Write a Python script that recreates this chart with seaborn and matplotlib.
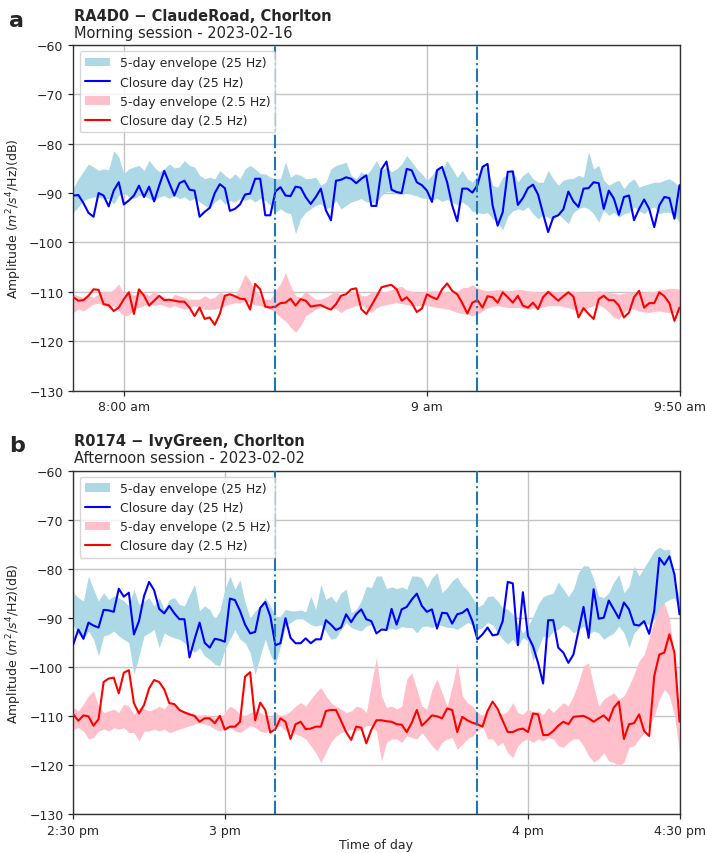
import numpy as np
import pandas as pd
import matplotlib
matplotlib.use("Agg")
import matplotlib.pyplot as plt
from matplotlib.patches import Patch
from matplotlib.lines import Line2D
import seaborn as sns

# ---------------- Panel a: RA4D0, morning session (1-min samples from 07:50) ----------------
a_start = "2023-02-16 07:50"
a_end = "2023-02-16 09:50"
a_closure_25 = [
    -90.5, -90.4, -92.0, -94.0, -94.8, -90.0, -90.5, -92.7, -89.5, -87.8,
    -92.3, -91.5, -90.5, -88.5, -90.8, -88.7, -91.7, -88.5, -85.5, -88.0,
    -90.5, -88.0, -87.5, -89.3, -89.5, -94.8, -93.8, -93.0, -90.0, -88.2,
    -89.0, -93.6, -93.2, -92.3, -90.3, -90.1, -87.1, -87.1, -94.5, -94.5,
    -89.7, -88.8, -90.5, -90.6, -88.7, -88.9, -90.8, -92.2, -90.8, -89.1,
    -93.5, -95.5, -87.5, -87.3, -86.8, -87.1, -88.0, -87.1, -86.4, -92.6,
    -92.6, -85.2, -83.6, -89.3, -89.8, -90.0, -85.1, -85.4, -87.8, -88.4,
    -89.5, -91.8, -85.4, -84.7, -87.8, -92.5, -95.7, -89.1, -89.1, -89.9,
    -88.4, -84.7, -84.1, -92.5, -96.6, -93.9, -85.7, -85.6, -92.4, -91.0,
    -89.0, -88.3, -90.3, -94.2, -97.9, -94.9, -94.5, -93.3, -89.7, -91.7,
    -92.8, -89.1, -89.0, -87.8, -88.0, -93.2, -89.5, -91.1, -94.4, -90.8,
    -90.5, -95.5, -93.2, -91.3, -93.2, -96.9, -92.5, -90.8, -91.0, -95.2,
    -88.4]
a_env25_hi = [
    -89.0, -87.1, -85.6, -84.1, -84.7, -85.4, -85.1, -85.3, -81.4, -82.7,
    -86.1, -85.1, -84.7, -84.4, -85.4, -83.4, -84.7, -85.7, -85.1, -84.1,
    -84.9, -84.7, -83.4, -84.4, -84.7, -86.4, -87.1, -86.8, -87.1, -85.4,
    -86.4, -87.1, -86.1, -87.1, -85.1, -84.4, -85.1, -86.1, -86.1, -86.8,
    -87.1, -87.1, -83.7, -86.8, -86.1, -86.4, -87.1, -87.0, -86.8, -88.4,
    -87.8, -85.1, -84.4, -84.1, -83.7, -86.4, -87.1, -85.7, -86.4, -85.1,
    -83.4, -85.4, -84.7, -85.7, -85.1, -84.1, -82.4, -83.7, -85.1, -86.1,
    -87.4, -86.4, -84.7, -85.4, -83.4, -85.1, -86.8, -85.4, -87.1, -87.8,
    -86.4, -84.4, -85.1, -88.4, -88.8, -86.8, -86.1, -85.4, -87.8, -86.4,
    -85.7, -87.1, -87.8, -87.8, -85.4, -87.1, -88.4, -87.4, -87.1, -87.0,
    -86.4, -86.8, -81.6, -85.1, -84.4, -87.4, -88.4, -87.8, -87.4, -89.1,
    -87.8, -87.1, -88.8, -88.4, -88.1, -87.8, -87.8, -87.4, -87.1, -87.8,
    -88.8]
a_env25_lo = [
    -93.9, -92.8, -91.5, -91.1, -90.8, -90.8, -91.1, -91.1, -92.2, -90.5,
    -89.8, -90.8, -91.1, -90.5, -90.5, -91.1, -91.5, -90.8, -90.5, -91.1,
    -90.5, -91.1, -90.8, -91.5, -91.1, -91.8, -92.5, -93.2, -91.8, -91.1,
    -92.2, -91.5, -91.8, -91.1, -91.5, -91.1, -91.8, -91.1, -91.5, -92.5,
    -93.9, -93.2, -93.9, -94.2, -98.2, -95.2, -93.9, -93.2, -92.5, -92.2,
    -93.2, -92.8, -91.5, -93.2, -92.5, -91.8, -91.5, -91.1, -91.8, -91.8,
    -92.0, -90.5, -89.7, -89.8, -90.1, -90.3, -89.9, -90.3, -90.6, -91.0,
    -91.1, -91.4, -91.1, -91.7, -91.3, -91.8, -92.4, -91.8, -92.5, -93.7,
    -93.9, -94.2, -93.9, -95.2, -96.0, -97.4, -94.7, -93.6, -93.2, -93.5,
    -92.8, -94.2, -95.2, -94.5, -94.9, -95.5, -94.2, -95.2, -96.2, -93.9,
    -93.2, -92.8, -93.2, -94.2, -95.9, -93.5, -94.5, -93.9, -94.9, -94.2,
    -93.9, -92.8, -93.5, -94.2, -93.2, -92.8, -94.2, -93.9, -93.9, -94.5,
    -95.9]
a_closure_2p5 = [
    -111.1, -111.8, -111.7, -110.8, -109.5, -109.6, -112.5, -112.7, -113.9, -113.2,
    -111.5, -110.1, -114.5, -109.5, -110.8, -112.8, -111.8, -110.8, -111.7, -111.6,
    -111.8, -112.0, -112.0, -113.2, -114.9, -113.2, -115.5, -115.2, -116.7, -114.5,
    -110.8, -110.5, -110.9, -111.4, -111.5, -113.6, -108.4, -109.5, -113.0, -113.2,
    -113.0, -112.3, -112.2, -111.4, -112.8, -111.5, -111.8, -113.0, -112.8, -112.7,
    -113.2, -113.6, -112.5, -110.8, -110.5, -109.5, -109.3, -113.5, -114.5, -112.8,
    -111.0, -109.1, -108.8, -108.6, -109.5, -111.8, -111.1, -112.3, -114.1, -113.4,
    -110.5, -111.1, -111.5, -109.5, -108.3, -109.8, -110.5, -112.3, -114.4, -112.2,
    -111.7, -113.2, -110.9, -111.1, -112.2, -110.1, -111.1, -112.2, -110.8, -112.8,
    -113.2, -112.2, -113.5, -111.1, -110.0, -110.9, -111.8, -110.9, -110.1, -111.0,
    -115.2, -113.3, -114.5, -115.5, -111.5, -110.8, -111.7, -111.7, -112.8, -115.2,
    -114.2, -111.1, -109.8, -113.2, -112.3, -112.3, -110.1, -110.9, -112.3, -115.9,
    -113.2]
a_env2p5_hi = [
    -110.5, -110.8, -111.1, -110.8, -111.1, -110.5, -109.8, -110.1, -109.5, -108.4,
    -110.5, -109.8, -110.8, -109.8, -110.1, -110.8, -109.8, -110.8, -110.9, -111.8,
    -110.5, -110.8, -111.1, -111.5, -111.5, -111.5, -110.8, -111.4, -111.1, -110.1,
    -110.5, -110.8, -110.8, -108.8, -106.4, -107.8, -109.8, -110.8, -111.5, -111.5,
    -109.8, -108.4, -106.1, -108.8, -110.8, -111.1, -109.8, -110.8, -111.5, -111.5,
    -111.1, -110.5, -109.8, -110.8, -110.8, -110.1, -109.8, -110.8, -110.8, -110.1,
    -110.1, -110.1, -109.9, -109.6, -109.1, -108.9, -109.6, -109.9, -110.1, -110.0,
    -109.9, -109.8, -109.8, -109.9, -110.1, -110.1, -109.9, -109.2, -109.1, -108.6,
    -109.2, -109.6, -109.8, -109.7, -109.5, -109.6, -109.8, -109.7, -109.5, -109.6,
    -109.8, -109.9, -110.1, -110.0, -109.8, -109.9, -110.1, -110.0, -109.8, -109.9,
    -110.0, -110.1, -110.1, -110.0, -109.8, -110.0, -110.1, -110.3, -110.5, -110.3,
    -110.1, -110.1, -110.1, -110.1, -110.0, -109.9, -109.6, -109.5, -109.3, -109.3,
    -109.5]
a_env2p5_lo = [
    -114.2, -113.5, -113.9, -113.2, -112.5, -112.3, -112.8, -113.2, -112.8, -113.9,
    -114.9, -114.7, -113.5, -113.2, -112.8, -112.3, -112.8, -112.5, -112.8, -113.2,
    -112.8, -113.2, -113.5, -113.2, -112.8, -113.2, -113.5, -113.6, -113.5, -113.2,
    -112.8, -112.5, -112.2, -112.3, -111.8, -112.2, -112.7, -112.8, -113.2, -113.5,
    -114.2, -115.2, -115.9, -117.2, -118.2, -116.9, -114.9, -114.2, -113.5, -113.2,
    -112.8, -113.2, -113.5, -114.2, -113.5, -113.2, -112.8, -112.5, -113.5, -114.2,
    -113.3, -112.8, -112.6, -112.4, -112.2, -112.4, -112.6, -112.8, -112.8, -112.8,
    -112.7, -113.0, -113.2, -113.3, -113.5, -113.8, -114.2, -114.4, -114.5, -114.9,
    -114.5, -113.9, -113.2, -113.0, -112.8, -113.0, -113.2, -113.2, -113.2, -113.3,
    -113.5, -113.4, -113.2, -113.1, -112.8, -112.8, -112.8, -113.0, -113.2, -113.6,
    -114.2, -113.6, -113.2, -112.8, -112.6, -113.2, -114.1, -115.2, -115.5, -114.2,
    -113.4, -113.5, -113.9, -114.1, -114.2, -114.0, -113.9, -114.1, -114.2, -114.2,
    -114.2]
a_ticks = ["2023-02-16 08:00", "2023-02-16 09:00", "2023-02-16 09:50"]
a_ticklabels = ["8:00 am", "9 am", "9:50 am"]
a_closure_marks = ["2023-02-16 08:30", "2023-02-16 09:10"]

# ---------------- Panel b: R0174, afternoon session (1-min samples from 14:30) ----------------
b_start = "2023-02-02 14:30"
b_end = "2023-02-02 16:30"
b_closure_25 = [
    -95.4, -92.4, -94.3, -91.0, -91.6, -92.0, -88.4, -88.5, -88.8, -84.1,
    -85.7, -84.9, -93.4, -90.7, -85.6, -82.7, -84.4, -88.2, -89.1, -87.6,
    -89.1, -90.3, -90.3, -98.1, -94.4, -91.0, -95.1, -96.1, -94.3, -94.5,
    -94.9, -86.1, -86.4, -88.6, -91.4, -93.2, -92.9, -88.0, -86.8, -89.7,
    -95.6, -95.2, -90.1, -94.1, -95.2, -95.2, -94.2, -95.2, -94.4, -94.4,
    -90.5, -91.4, -92.5, -92.0, -89.3, -90.9, -89.3, -88.3, -90.3, -90.7,
    -93.2, -92.4, -92.5, -88.2, -91.4, -88.3, -87.8, -86.3, -85.1, -87.6,
    -88.8, -88.3, -92.2, -89.0, -89.1, -91.2, -89.3, -89.0, -88.2, -90.7,
    -94.4, -93.4, -92.0, -93.6, -93.4, -90.7, -82.7, -83.0, -95.6, -84.8,
    -93.7, -95.8, -99.2, -103.4, -90.5, -90.5, -96.1, -97.1, -99.2, -97.5,
    -92.7, -87.8, -94.1, -84.2, -90.2, -90.0, -86.5, -88.3, -90.1, -86.9,
    -88.3, -91.4, -91.6, -90.7, -93.3, -88.6, -77.8, -79.2, -77.5, -81.2,
    -89.3]
b_env25_hi = [
    -84.9, -85.9, -86.6, -81.5, -84.2, -86.6, -84.9, -86.3, -85.6, -85.9,
    -86.6, -87.6, -84.2, -87.3, -86.6, -85.9, -87.6, -85.9, -88.3, -86.3,
    -85.9, -87.3, -87.6, -85.3, -83.2, -88.6, -87.6, -88.3, -90.3, -88.6,
    -84.2, -81.5, -84.2, -82.3, -86.9, -90.0, -88.6, -87.6, -85.9, -87.6,
    -89.7, -89.7, -88.3, -88.6, -88.6, -88.4, -88.8, -85.6, -88.3, -83.2,
    -86.3, -85.6, -86.9, -84.9, -84.2, -89.0, -88.3, -86.6, -83.6, -83.9,
    -81.5, -81.5, -84.1, -83.7, -84.1, -83.7, -84.2, -81.5, -81.5, -81.9,
    -83.9, -81.9, -80.8, -84.9, -83.9, -82.5, -81.7, -83.4, -84.4, -85.9,
    -87.8, -87.3, -85.7, -85.5, -86.6, -88.0, -88.3, -89.3, -91.4, -93.1,
    -91.8, -89.7, -87.3, -85.7, -85.3, -85.0, -82.7, -84.2, -85.7, -84.2,
    -80.8, -79.4, -79.5, -82.1, -85.6, -85.9, -84.9, -82.7, -81.2, -84.9,
    -83.6, -79.5, -81.5, -79.8, -78.1, -76.4, -75.6, -76.2, -76.0, -82.5,
    -85.9]
b_env25_lo = [
    -91.4, -93.4, -94.4, -92.7, -94.4, -97.8, -93.7, -93.4, -92.7, -93.7,
    -94.4, -95.1, -101.5, -97.8, -93.7, -93.1, -92.4, -96.1, -93.1, -93.7,
    -94.1, -94.4, -95.1, -96.1, -97.1, -96.1, -97.8, -98.5, -99.5, -99.8,
    -96.4, -94.4, -92.4, -94.4, -95.1, -97.1, -101.5, -97.8, -94.4, -97.5,
    -99.5, -95.8, -91.7, -91.0, -90.3, -90.0, -90.7, -91.4, -91.7, -91.4,
    -92.7, -94.4, -94.1, -92.4, -91.0, -92.0, -92.4, -92.7, -91.7, -91.4,
    -92.4, -92.0, -92.4, -92.2, -92.4, -91.8, -92.0, -92.0, -93.1, -91.8,
    -91.7, -92.0, -91.4, -91.6, -92.0, -92.0, -92.4, -91.7, -91.0, -91.4,
    -92.4, -92.0, -91.0, -91.4, -93.1, -94.4, -95.4, -94.4, -95.8, -94.1,
    -94.7, -98.8, -96.4, -93.7, -94.1, -92.7, -92.4, -91.4, -92.0, -93.1,
    -92.4, -91.7, -93.4, -92.7, -93.1, -94.4, -93.7, -93.1, -91.7, -93.1,
    -96.1, -93.1, -92.0, -91.0, -91.4, -90.3, -89.3, -86.9, -86.3, -85.9,
    -88.3]
b_closure_2p5 = [
    -109.7, -111.0, -109.9, -110.1, -112.0, -110.7, -103.1, -102.4, -102.2, -105.4,
    -101.2, -100.7, -107.4, -109.5, -107.8, -104.4, -102.7, -103.1, -104.6, -107.4,
    -107.6, -108.8, -109.3, -109.7, -110.0, -111.2, -110.5, -110.5, -111.5, -110.0,
    -112.8, -112.2, -112.2, -111.2, -102.0, -101.1, -110.9, -107.3, -108.8, -113.4,
    -112.7, -110.5, -111.2, -114.7, -111.7, -111.2, -112.7, -112.6, -112.2, -112.2,
    -109.0, -108.8, -108.8, -111.0, -113.3, -114.9, -112.2, -112.4, -115.6, -112.8,
    -110.9, -110.9, -111.1, -111.2, -111.7, -111.8, -113.3, -111.4, -108.8, -112.0,
    -111.0, -109.9, -110.1, -110.5, -108.5, -108.8, -113.3, -110.2, -110.9, -111.4,
    -111.7, -112.2, -109.0, -107.1, -108.6, -111.0, -113.3, -113.3, -112.8, -112.6,
    -113.3, -109.5, -109.7, -113.9, -113.9, -113.1, -112.0, -111.2, -111.7, -110.2,
    -110.1, -110.0, -110.5, -111.2, -110.5, -109.9, -111.0, -108.3, -107.1, -114.7,
    -111.7, -111.5, -109.7, -113.1, -114.1, -101.9, -97.5, -97.1, -93.4, -97.1,
    -111.2]
b_env2p5_hi = [
    -108.3, -109.0, -107.6, -105.9, -104.9, -108.0, -109.3, -109.0, -108.6, -109.3,
    -107.6, -108.0, -109.7, -108.3, -108.6, -109.0, -108.6, -108.0, -108.6, -107.3,
    -107.6, -108.6, -109.0, -109.3, -109.7, -110.0, -109.7, -110.0, -110.3, -110.7,
    -109.3, -108.0, -108.6, -109.7, -110.0, -109.3, -109.0, -109.3, -110.0, -110.3,
    -109.3, -110.0, -109.7, -109.0, -108.0, -107.3, -108.0, -106.6, -105.3, -104.2,
    -105.9, -107.3, -108.0, -108.6, -109.3, -109.0, -108.0, -108.3, -109.3, -103.5,
    -98.1, -105.9, -108.3, -108.0, -108.6, -108.0, -102.5, -101.2, -104.6, -108.0,
    -108.6, -104.6, -102.5, -105.3, -108.0, -103.9, -99.2, -105.9, -107.3, -108.0,
    -109.3, -110.0, -108.6, -107.6, -109.3, -109.7, -109.0, -107.3, -109.3, -109.7,
    -108.6, -109.3, -109.0, -109.7, -108.3, -109.3, -108.3, -107.3, -108.0, -105.9,
    -103.2, -99.8, -99.2, -103.9, -108.0, -106.6, -105.9, -105.3, -106.6, -105.9,
    -103.9, -101.5, -98.8, -97.5, -94.1, -90.7, -88.0, -87.0, -90.3, -97.8,
    -114.7]
b_env2p5_lo = [
    -112.7, -112.4, -113.1, -114.7, -114.4, -113.1, -112.7, -113.1, -112.4, -112.7,
    -112.4, -113.4, -113.4, -115.1, -113.1, -113.1, -112.7, -113.1, -112.7, -113.4,
    -113.1, -112.7, -112.4, -112.0, -111.7, -111.4, -111.7, -112.0, -112.7, -113.1,
    -112.7, -112.4, -113.1, -113.4, -112.7, -112.0, -112.4, -113.1, -113.4, -112.7,
    -112.4, -112.0, -113.1, -113.4, -113.7, -114.1, -114.7, -116.1, -117.5, -119.5,
    -117.5, -115.4, -114.1, -113.4, -113.1, -112.7, -113.1, -112.7, -112.0, -112.0,
    -113.1, -119.2, -115.4, -114.7, -114.7, -115.4, -114.1, -114.4, -114.7, -113.4,
    -114.7, -116.1, -117.1, -115.4, -114.7, -114.4, -116.8, -115.8, -114.7, -114.1,
    -113.1, -112.0, -114.7, -114.7, -116.1, -115.4, -117.5, -118.5, -116.1, -115.1,
    -114.7, -115.4, -114.7, -115.1, -114.4, -114.7, -116.1, -116.4, -115.4, -114.7,
    -114.7, -116.1, -118.1, -119.4, -118.8, -117.5, -119.2, -119.5, -120.2, -119.5,
    -116.4, -116.1, -114.7, -113.4, -112.0, -110.0, -106.6, -104.6, -105.9, -110.0,
    -117.5]
b_ticks = ["2023-02-02 14:30", "2023-02-02 15:00", "2023-02-02 16:00", "2023-02-02 16:30"]
b_ticklabels = ["2:30 pm", "3 pm", "4 pm", "4:30 pm"]
b_closure_marks = ["2023-02-02 15:10", "2023-02-02 15:50"]

y_ticks = [-130, -120, -110, -100, -90, -80, -70, -60]

sns.set_style("ticks")
plt.rcParams["font.family"] = ["DejaVu Sans"]
plt.rcParams["axes.unicode_minus"] = True

W, H = 705, 854
fig = plt.figure(figsize=(W / 100, H / 100), dpi=100)


def ax_rect(left, top, right, bottom):
    return [left / W, 1 - bottom / H, (right - left) / W, (bottom - top) / H]


def draw_panel(ax, start, end, c25, hi25, lo25, c2p5, hi2p5, lo2p5,
               ticks, ticklabels, marks, letter, site, session, xlabel):
    times = pd.date_range(start, periods=len(c25), freq="min")
    df = pd.DataFrame({
        "time": times,
        "closure_25": c25, "hi_25": hi25, "lo_25": lo25,
        "closure_2p5": c2p5, "hi_2p5": hi2p5, "lo_2p5": lo2p5,
    })

    ax.set_axisbelow(True)
    ax.grid(True, color="#c4c4c4", linewidth=1.0)

    ax.fill_between(df["time"], df["lo_25"], df["hi_25"],
                    color="lightblue", linewidth=0, zorder=2)
    sns.lineplot(data=df, x="time", y="closure_25", ax=ax,
                 color="blue", linewidth=1.5, zorder=3)
    ax.fill_between(df["time"], df["lo_2p5"], df["hi_2p5"],
                    color="pink", linewidth=0, zorder=2)
    sns.lineplot(data=df, x="time", y="closure_2p5", ax=ax,
                 color="red", linewidth=1.5, zorder=3)

    for m in marks:
        ax.axvline(pd.Timestamp(m), color="#1f77b4", linestyle="-.",
                   linewidth=1.5, zorder=4)

    ax.set_xlim(pd.Timestamp(start), pd.Timestamp(end))
    ax.set_ylim(-130, -60)
    ax.set_yticks(y_ticks)
    ax.set_xticks([pd.Timestamp(t) for t in ticks])
    ax.set_xticklabels(ticklabels)
    ax.tick_params(labelsize=9, length=3.5, width=0.9, colors="#262626")
    for sp in ax.spines.values():
        sp.set_linewidth(1.0)
        sp.set_color("#333333")

    ax.set_ylabel(r"Amplitude ($m^2/s^4$/Hz)(dB)", fontsize=9)
    ax.set_xlabel(xlabel, fontsize=9, labelpad=1)

    handles = [
        Patch(facecolor="lightblue", edgecolor="none", label="5-day envelope (25 Hz)"),
        Line2D([], [], color="blue", linewidth=1.5, label="Closure day (25 Hz)"),
        Patch(facecolor="pink", edgecolor="none", label="5-day envelope (2.5 Hz)"),
        Line2D([], [], color="red", linewidth=1.5, label="Closure day (2.5 Hz)"),
    ]
    leg = ax.legend(handles=handles, loc="upper left", fontsize=9, frameon=True)
    leg.set_zorder(5)

    ax.annotate(site, xy=(0, 1), xycoords="axes fraction", xytext=(0.5, 18),
                textcoords="offset points", ha="left", va="baseline",
                fontsize=10.5, fontweight="bold")
    ax.annotate(session, xy=(0, 1), xycoords="axes fraction", xytext=(0.5, 6),
                textcoords="offset points", ha="left", va="baseline",
                fontsize=10.5)
    ax.annotate(letter, xy=(0, 1), xycoords="axes fraction", xytext=(-46, 14),
                textcoords="offset points", ha="left", va="baseline",
                fontsize=16, fontweight="bold")


ax_a = fig.add_axes(ax_rect(73.3, 46, 679.5, 391.5))
draw_panel(ax_a, a_start, a_end, a_closure_25, a_env25_hi, a_env25_lo,
           a_closure_2p5, a_env2p5_hi, a_env2p5_lo,
           a_ticks, a_ticklabels, a_closure_marks, "a",
           "RA4D0 \u2212 ClaudeRoad, Chorlton", "Morning session - 2023-02-16", "")

ax_b = fig.add_axes(ax_rect(73.3, 471.5, 679.5, 815))
draw_panel(ax_b, b_start, b_end, b_closure_25, b_env25_hi, b_env25_lo,
           b_closure_2p5, b_env2p5_hi, b_env2p5_lo,
           b_ticks, b_ticklabels, b_closure_marks, "b",
           "R0174 \u2212 IvyGreen, Chorlton", "Afternoon session - 2023-02-02", "Time of day")

fig.savefig("out.png", dpi=100)
